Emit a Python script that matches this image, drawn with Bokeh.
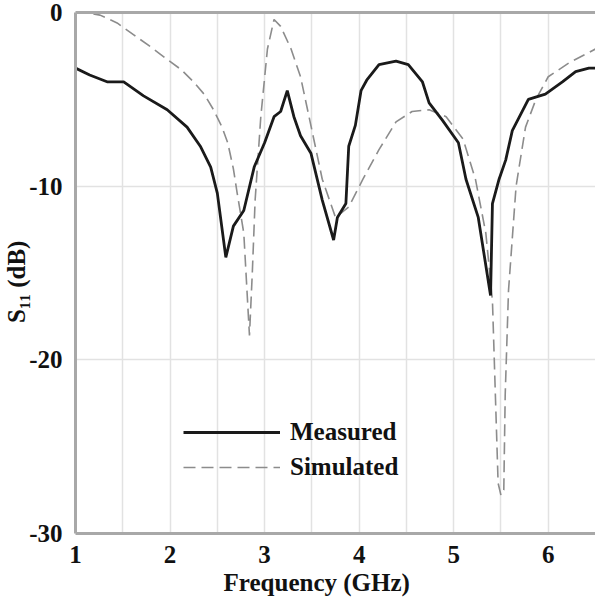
from bokeh.plotting import figure
from bokeh.models import (Range1d, FixedTicker, SingleIntervalTicker, Legend, LegendItem, LinearAxis)
from bokeh.embed import file_html
from bokeh.resources import INLINE

# ---- data ----
meas_x = [1.00, 1.15, 1.34, 1.51, 1.72, 1.97, 2.18, 2.32, 2.43, 2.50, 2.59, 2.67, 2.78, 2.89,
          3.00, 3.10, 3.17, 3.24, 3.31, 3.38, 3.49, 3.61, 3.73, 3.77, 3.86, 3.89, 3.96, 4.02,
          4.08, 4.21, 4.39, 4.52, 4.67, 4.74, 4.88, 5.05, 5.13, 5.26, 5.39, 5.41, 5.48, 5.55,
          5.62, 5.79, 5.97, 6.15, 6.29, 6.43, 6.50]
meas_y = [-3.2, -3.6, -4.0, -4.0, -4.8, -5.6, -6.6, -7.7, -8.9, -10.4, -14.1, -12.3, -11.4, -8.9,
          -7.5, -6.0, -5.7, -4.5, -6.0, -7.1, -8.1, -10.8, -13.1, -11.8, -11.0, -7.7, -6.5, -4.5,
          -3.9, -3.0, -2.8, -3.0, -4.0, -5.2, -6.2, -7.5, -9.6, -11.8, -16.3, -11.0, -9.6, -8.5,
          -6.8, -5.0, -4.7, -4.0, -3.4, -3.2, -3.2]

sim_x = [1.00, 1.12, 1.26, 1.44, 1.62, 1.80, 1.97, 2.12, 2.25, 2.36, 2.46, 2.55, 2.61, 2.67,
         2.71, 2.78, 2.84, 2.87, 2.90, 2.96, 3.03, 3.10, 3.17, 3.28, 3.38, 3.47, 3.61, 3.75,
         3.89, 4.04, 4.21, 4.39, 4.56, 4.74, 4.92, 5.10, 5.23, 5.34, 5.41, 5.47, 5.50, 5.53,
         5.545, 5.58, 5.66, 5.76, 5.87, 6.00, 6.22, 6.50]
sim_y = [0.0, -0.03, -0.15, -0.6, -1.3, -2.0, -2.7, -3.3, -4.0, -4.7, -5.6, -6.6, -7.5, -9.0,
         -10.4, -12.7, -18.6, -15.0, -10.8, -6.0, -2.1, -0.4, -0.8, -2.1, -3.7, -6.0, -9.6, -11.8,
         -11.2, -9.6, -7.9, -6.3, -5.7, -5.6, -6.0, -7.3, -9.6, -12.7, -16.6, -27.1, -27.8, -27.5,
         -22.0, -16.0, -10.0, -6.6, -5.0, -3.7, -2.9, -2.1]

x_ticks = [1, 2, 3, 4, 5, 6]
y_ticks = [0, -10, -20, -30]
y_tick_labels = ["0", "-10", "-20", "-30"]
series_names = ["Measured", "Simulated"]
x_title = "Frequency (GHz)"
y_title = "S\u2081\u2081 (dB)"

FONT = "Liberation Serif"
AX = "#a8a8a8"

p = figure(width=595, height=599, output_backend="svg", toolbar_location=None,
           x_range=Range1d(1, 6.5), y_range=Range1d(-30, 0),
           min_border_left=75, min_border_right=0, min_border_top=12, min_border_bottom=66)
p.background_fill_color = "white"
p.border_fill_color = "white"
p.outline_line_color = None

# axes
for ax in (p.xaxis[0], p.yaxis[0]):
    ax.axis_line_color = AX
    ax.axis_line_width = 3
    ax.major_tick_line_color = None
    ax.minor_tick_line_color = None
    ax.major_label_text_font = FONT
    ax.major_label_text_font_style = "bold"
    ax.major_label_text_font_size = "25px"
    ax.major_label_text_color = "#111111"
    ax.axis_label_text_font = FONT
    ax.axis_label_text_font_style = "bold"
    ax.axis_label_text_font_size = "25px"
    ax.axis_label_text_color = "#111111"
p.xaxis.ticker = FixedTicker(ticks=x_ticks)
p.yaxis.ticker = FixedTicker(ticks=y_ticks)
p.yaxis.major_label_overrides = dict(zip(y_ticks, y_tick_labels))
p.xaxis.major_label_standoff = 6
p.yaxis.major_label_standoff = 7
p.xaxis.axis_label = x_title + "\u2003\u2002"
p.xaxis.axis_label_standoff = 3
p.yaxis.axis_label = y_title + "\u2002\u2009"
p.yaxis.axis_label_standoff = -4

top_axis = LinearAxis(ticker=FixedTicker(ticks=[]), axis_line_color=AX, axis_line_width=3,
                      major_tick_line_color=None, minor_tick_line_color=None,
                      major_label_text_font_size="0px")
p.add_layout(top_axis, "above")

# grids
p.xgrid.ticker = SingleIntervalTicker(interval=0.5)
p.ygrid.ticker = FixedTicker(ticks=[-10, -20])
p.xgrid.grid_line_color = "#e2e2e2"
p.ygrid.grid_line_color = "#e2e2e2"
p.xgrid.grid_line_width = 1.5
p.ygrid.grid_line_width = 1.5

r_sim = p.line(sim_x, sim_y, line_color="#8c8c8c", line_width=1.6, line_dash="12 6")
r_meas = p.line(meas_x, meas_y, line_color="#1a1a1a", line_width=2.8)

legend = Legend(items=[LegendItem(label=series_names[0], renderers=[r_meas]),
                       LegendItem(label=series_names[1], renderers=[r_sim])],
                location=(108, 51), padding=0, margin=0, spacing=5,
                glyph_width=97, glyph_height=30, label_standoff=10,
                label_text_font=FONT, label_text_font_style="bold",
                label_text_font_size="25px", label_text_color="#111111",
                background_fill_alpha=0, border_line_color=None)
p.add_layout(legend)

open("out.html", "w").write(file_html(p, INLINE))
